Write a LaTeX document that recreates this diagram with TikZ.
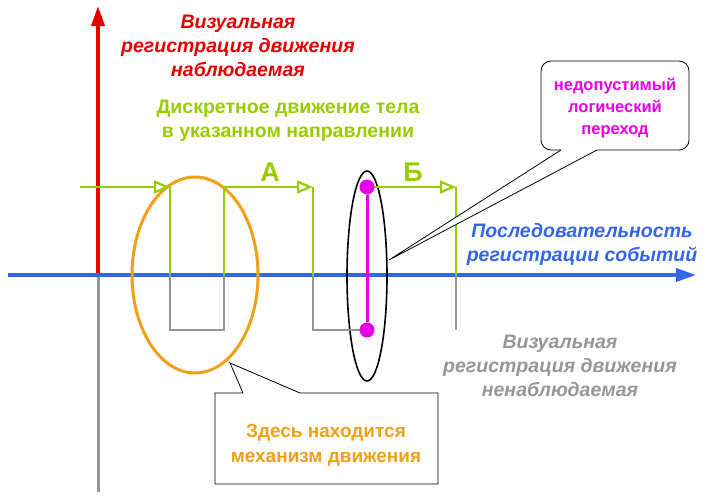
\documentclass[tikz,border=0pt]{standalone}
\usepackage{fontspec}
\setmainfont{Liberation Sans}
\usetikzlibrary{arrows.meta,shapes.geometric}
\definecolor{lg}{RGB}{153,204,0}
\definecolor{gr}{RGB}{150,150,150}
\definecolor{bl}{RGB}{51,102,230}
\definecolor{rd}{RGB}{230,0,0}
\definecolor{og}{RGB}{240,160,20}
\definecolor{mg}{RGB}{230,0,230}
\tikzset{
 gl/.style={lg,line width=2.2pt},
 gy/.style={gr,line width=1.8pt},
 garr/.style={gl,-{Triangle[open,length=16pt,width=13pt]}},
 lbl/.style={font=\bfseries\itshape\fontsize{19.5}{24}\selectfont,align=center,inner sep=0},
 dot/.style={circle,fill=mg,inner sep=0,minimum size=15pt},
}
\begin{document}
\begin{tikzpicture}[x=1pt,y=-1pt]
\useasboundingbox (0,0) rectangle (722,500);
% axes
\draw[gr,line width=3pt] (98,275) -- (98,492);
\draw[rd,line width=3.5pt,-{Triangle[length=20pt,width=13pt]}] (98,275) -- (98,6);
\draw[bl,line width=3.5pt,-{Triangle[length=20pt,width=13pt]}] (8,275) -- (696,275);
% ellipses
\node[draw=og,line width=3pt,ellipse,minimum width=126pt,minimum height=196pt,inner sep=0] (oe) at (195,275) {};
\node[draw=black,line width=1.6pt,ellipse,minimum width=40pt,minimum height=210pt,inner sep=0] (be) at (367,276) {};
% movement
\draw[garr] (80,187) -- (170,187);
\draw[gl] (170,187) -- (170,275);
\draw[gy] (170,275) -- (170,330) -- (224,330) -- (224,275);
\draw[gl] (224,275) -- (224,187);
\draw[garr] (224,187) -- (313,187);
\draw[gl] (313,187) -- (313,275);
\draw[gy] (313,275) -- (313,330) -- (367,330);
\draw[garr] (367,187) -- (456,187);
\draw[gl] (456,187) -- (456,275);
\draw[gy] (456,275) -- (456,330);
\node[dot] (d1) at (367,187) {};
\node[dot] (d2) at (367,330) {};
\draw[mg,line width=3pt] (d1) -- (d2);
% texts
\node[lbl,rd] (t1) at (238,46) {Визуальная\\регистрация движения\\наблюдаемая};
\node[lbl,lg,font=\bfseries\fontsize{19.5}{24}\selectfont] (t2) at (288,121) {Дискретное движение тела\\в указанном направлении};
\node[lg,font=\bfseries\fontsize{27}{27}\selectfont] (ta) at (270,172) {А};
\node[lg,font=\bfseries\fontsize{27}{27}\selectfont] (tb) at (413,172) {Б};
\node[lbl,bl] (t3) at (582,244) {Последовательность\\регистрации событий};
\node[lbl,gr] (t4) at (560,366) {Визуальная\\регистрация движения\\ненаблюдаемая};
% callouts
\draw[line width=0.8pt,fill=white] (215,393) -- (243,393) -- (230,363) -- (300,393) -- (438,393) -- (438,484) -- (215,484) -- cycle;
\node[og,font=\bfseries\fontsize{19}{25}\selectfont,align=center] (t5) at (326,445) {Здесь находится\\механизм движения};
\draw[line width=0.8pt,fill=white,rounded corners=10pt] (597,150) -- (689,150) -- (689,61) -- (541,61) -- (541,150) -- (561,150);
\draw[line width=0.8pt,fill=white] (561,150) -- (389,260) -- (597,150);
\node[mg,font=\bfseries\fontsize{16.5}{22}\selectfont,align=center] (t6) at (615,108) {недопустимый\\логический\\переход};
\end{tikzpicture}
\end{document}
